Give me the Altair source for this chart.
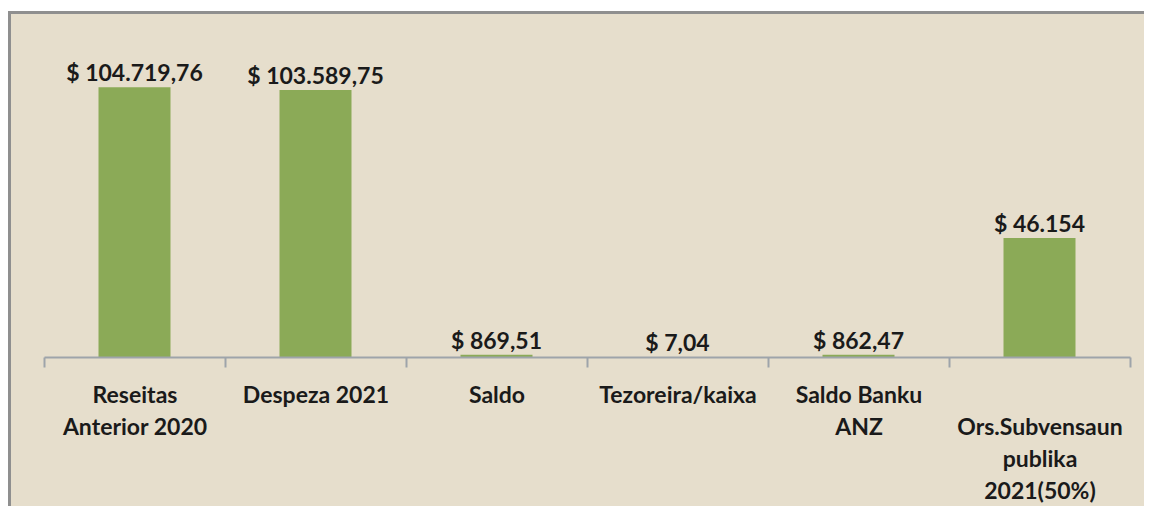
import altair as alt
import pandas as pd

categories = ["Reseitas|Anterior 2020", "Despeza 2021", "Saldo", "Tezoreira/kaixa",
              "Saldo Banku|ANZ", "|Ors.Subvensaun|publika|2021(50%)"]
values = [104719.76, 103589.75, 869.51, 7.04, 862.47, 46154]
value_labels = ["$ 104.719,76", "$ 103.589,75", "$ 869,51", "$ 7,04", "$ 862,47", "$ 46.154"]

df = pd.DataFrame({"cat": categories, "val": values, "lab": value_labels})

W, H = 1086, 335
FONT = "Lato"
FS = 23
BG = "#E6DECC"
BORDER = "#8F8F8F"
BAR = "#8BAA57"
AXIS = "#9EA4AA"

bg = alt.Chart(alt.Data(values=[{"a": 1}])).mark_rect(color=BG).encode(
    x=alt.value(-34), x2=alt.value(W + 14), y=alt.value(-8), y2=alt.value(H + 149)
)
left_border = alt.Chart(alt.Data(values=[{"a": 1}])).mark_rule(color=BORDER, strokeWidth=3).encode(
    x=alt.value(-34.5), y=alt.value(-9.5), y2=alt.value(H + 149)
)
top_border = alt.Chart(alt.Data(values=[{"a": 1}])).mark_rule(color=BORDER, strokeWidth=3).encode(
    x=alt.value(-36), x2=alt.value(W + 14), y=alt.value(-9.5)
)

xenc = alt.X("cat:N", sort=None,
             scale=alt.Scale(paddingInner=0, paddingOuter=0),
             axis=alt.Axis(title=None, labelAngle=0, tickBand="extent",
                           labelExpr="split(datum.label, '|')",
                           labelFont=FONT, labelFontSize=FS, labelFontWeight="bold",
                           labelColor="#1a1a1a", labelLineHeight=32, labelPadding=17,
                           labelLimit=0, zindex=1,
                           domainColor=AXIS, domainWidth=2, tickColor=AXIS,
                           tickWidth=2, tickSize=10))
yenc = alt.Y("val:Q", scale=alt.Scale(domain=[0, 130000]), axis=None)

bars = alt.Chart(df).mark_bar(size=72, color=BAR).encode(x=xenc, y=yenc)
texts = alt.Chart(df).mark_text(font=FONT, fontSize=FS, fontWeight="bold", color="#1a1a1a",
                                baseline="alphabetic", dy=-6).encode(
    x=alt.X("cat:N", sort=None), y=yenc, text="lab:N")

chart = alt.layer(bg, left_border, top_border, bars, texts).properties(
    width=W, height=H,
    padding={"left": 36, "top": 14, "right": 14, "bottom": 149},
    autosize="none",
).configure_view(strokeOpacity=0)

chart.save("out.html", embed_options={"renderer": "svg", "actions": False})
